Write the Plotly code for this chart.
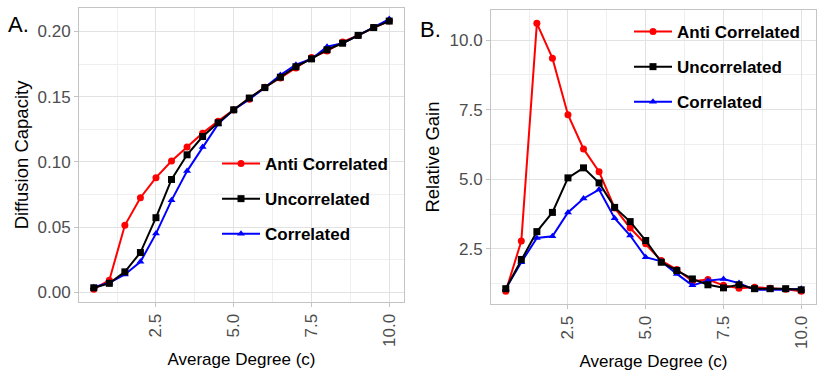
import plotly.graph_objects as go

degree = [0.5, 1.0, 1.5, 2.0, 2.5, 3.0, 3.5, 4.0, 4.5, 5.0,
          5.5, 6.0, 6.5, 7.0, 7.5, 8.0, 8.5, 9.0, 9.5, 10.0]

# panel A: diffusion capacity
cap_anti = [0.0025, 0.0094, 0.0515, 0.0726, 0.088, 0.1007, 0.1114, 0.1221, 0.1313, 0.1399,
            0.148, 0.1573, 0.1644, 0.172, 0.180, 0.185, 0.192, 0.197, 0.203, 0.208]
cap_uncor = [0.0036, 0.007, 0.0158, 0.0306, 0.0573, 0.0866, 0.1055, 0.1195, 0.130, 0.140,
             0.149, 0.157, 0.165, 0.173, 0.179, 0.186, 0.191, 0.197, 0.203, 0.208]
cap_cor = [0.004, 0.0074, 0.0138, 0.0235, 0.0451, 0.0706, 0.093, 0.1114, 0.1292, 0.140,
           0.148, 0.157, 0.1667, 0.1745, 0.1789, 0.1883, 0.191, 0.197, 0.203, 0.2095]

# panel B: relative gain
gain_anti = [0.98, 2.78, 10.6, 9.35, 7.32, 6.09, 5.27, 3.97, 3.25, 2.68,
             2.08, 1.76, 1.34, 1.40, 1.19, 1.09, 1.12, 1.09, 1.05, 0.98]
gain_uncor = [1.07, 2.12, 3.12, 3.81, 5.05, 5.41, 4.87, 3.99, 3.48, 2.80,
              2.02, 1.72, 1.42, 1.21, 1.10, 1.21, 1.07, 1.07, 1.07, 1.03]
gain_cor = [1.07, 2.02, 2.89, 2.95, 3.81, 4.31, 4.63, 3.60, 2.98, 2.20,
            2.05, 1.60, 1.19, 1.36, 1.42, 1.27, 1.03, 1.03, 1.03, 1.07]

names = ["Anti Correlated", "Uncorrelated", "Correlated"]
colors = ["#ff0000", "#000000", "#0000ff"]
symbols = ["circle", "square", "triangle-up"]

FONT = "Liberation Sans, Arial, sans-serif"
W, H = 831, 378

fig = go.Figure()

panels = [
    ("x", "y", "legend", [cap_anti, cap_uncor, cap_cor]),
    ("x2", "y2", "legend2", [gain_anti, gain_uncor, gain_cor]),
]
draw_order = [0, 2, 1]
for xa, ya, lg, series in panels:
    for i in draw_order:
        fig.add_trace(go.Scatter(
            x=degree, y=series[i], name=names[i],
            mode="lines+markers",
            line=dict(color=colors[i], width=2),
            marker=dict(color=colors[i], symbol=symbols[i], size=7),
            xaxis=xa, yaxis=ya, legend=lg,
            legendgroup=names[i], legendrank=i + 1,
        ))

grid = "#e2e2e2"
minor_grid = "#efefef"
border = "#c4c4c4"
tickfont = dict(family=FONT, size=17, color="#4d4d4d")
titlefont = dict(family=FONT, size=17, color="#000000")
ytitlefont = dict(family=FONT, size=18.5, color="#000000")
legfont = dict(family=FONT, size=17, color="#000000", weight="bold")

xcommon = dict(
    range=[0.025, 10.475], tickvals=[2.5, 5, 7.5, 10], ticktext=["2.5", "5.0", "7.5", "10.0"],
    tickangle=-90, showgrid=True, gridcolor=grid, gridwidth=1,
    minor=dict(tick0=1.25, dtick=2.5, showgrid=True, gridcolor=minor_grid, gridwidth=1),
    ticks="outside", ticklen=4, tickcolor=border, tickfont=tickfont,
    showline=True, mirror=True, linecolor=border, linewidth=1, zeroline=False,
    automargin=False,
    title=dict(text="Average Degree (c)", font=titlefont, standoff=7),
)

fig.update_layout(
    width=W, height=H,
    margin=dict(l=0, r=0, t=0, b=0),
    paper_bgcolor="white", plot_bgcolor="white",
    font=dict(family=FONT),
    xaxis=dict(domain=[79 / W, 404 / W], anchor="y", **xcommon),
    xaxis2=dict(domain=[491 / W, 816 / W], anchor="y2", **xcommon),
    yaxis=dict(
        domain=[1 - 302 / H, 1 - 8 / H], anchor="x",
        range=[-0.0073, 0.218], tickvals=[0, 0.05, 0.10, 0.15, 0.20], tickformat=".2f",
        showgrid=True, gridcolor=grid, gridwidth=1,
        minor=dict(tick0=0.025, dtick=0.05, showgrid=True, gridcolor=minor_grid, gridwidth=1),
        ticks="outside", ticklen=4, tickcolor=border, tickfont=tickfont,
        showline=True, mirror=True, linecolor=border, linewidth=1, zeroline=False,
        automargin=False,
        title=dict(text="Diffusion Capacity", font=ytitlefont, standoff=4),
    ),
    yaxis2=dict(
        domain=[1 - 304 / H, 1 - 10 / H], anchor="x2",
        range=[0.52, 11.08], tickvals=[2.5, 5, 7.5, 10], tickformat=".1f",
        showgrid=True, gridcolor=grid, gridwidth=1,
        minor=dict(tick0=1.25, dtick=2.5, showgrid=True, gridcolor=minor_grid, gridwidth=1),
        ticks="outside", ticklen=4, tickcolor=border, tickfont=tickfont,
        showline=True, mirror=True, linecolor=border, linewidth=1, zeroline=False,
        automargin=False,
        title=dict(text="Relative Gain", font=ytitlefont, standoff=5),
    ),
    legend=dict(
        x=217 / W, y=1 - 146 / H, xanchor="left", yanchor="top",
        bgcolor="rgba(0,0,0,0)", font=legfont, itemwidth=38,
        traceorder="grouped", tracegroupgap=10,
    ),
    legend2=dict(
        x=629 / W, y=1 - 14 / H, xanchor="left", yanchor="top",
        bgcolor="rgba(0,0,0,0)", font=legfont, itemwidth=38,
        traceorder="grouped", tracegroupgap=10,
    ),
    annotations=[
        dict(text="A.", x=6 / W, y=1 - 10 / H, xref="paper", yref="paper",
             xanchor="left", yanchor="top", showarrow=False,
             font=dict(family=FONT, size=22, color="#000000")),
        dict(text="B.", x=418 / W, y=1 - 15 / H, xref="paper", yref="paper",
             xanchor="left", yanchor="top", showarrow=False,
             font=dict(family=FONT, size=22, color="#000000")),
    ],
)

# drop the default 8px page margin so the figure sits at the window origin
fig.write_html("out.html", config={"displayModeBar": False},
               post_script="document.body.style.margin='0';")
